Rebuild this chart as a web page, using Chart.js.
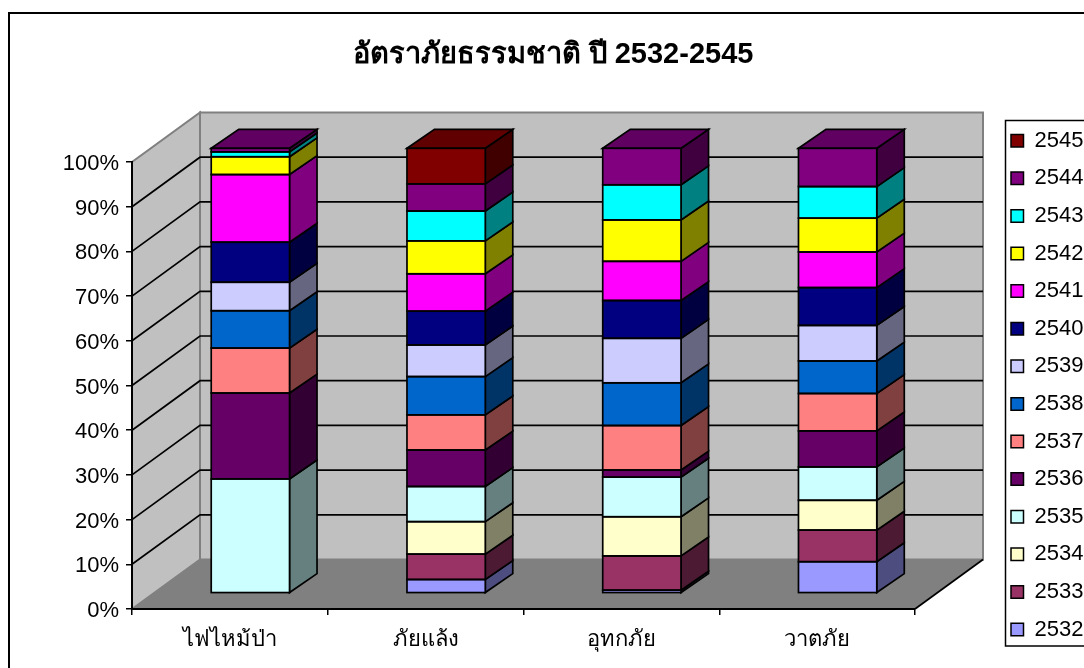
<!DOCTYPE html>
<html lang="th">
<head>
<meta charset="utf-8">
<title>อัตราภัยธรรมชาติ ปี 2532-2545</title>
<script src="https://cdn.jsdelivr.net/npm/chart.js@4/dist/chart.umd.min.js"></script>
<style>
  html, body { margin: 0; background: #fff; }
  canvas { display: block; }
</style>
</head>
<body>
<canvas id="hazardChart" width="1084" height="668"></canvas>
<script>
// Chart data (percent of each hazard per year)
const categories = ["ไฟไหม้ป่า", "ภัยแล้ง", "อุทกภัย", "วาตภัย"];
const years = ["2532", "2533", "2534", "2535", "2536", "2537", "2538", "2539", "2540", "2541", "2542", "2543", "2544", "2545"];
const yTickLabels = ["0%", "10%", "20%", "30%", "40%", "50%", "60%", "70%", "80%", "90%", "100%"];

const values2532 = [0, 3.1, 0.7, 7.1];
const values2533 = [0, 5.7, 7.7, 7.1];
const values2534 = [0, 7.3, 8.8, 6.7];
const values2535 = [25.7, 7.9, 8.9, 7.5];
const values2536 = [19.3, 8.2, 1.6, 8.1];
const values2537 = [10.1, 7.9, 10.0, 8.4];
const values2538 = [8.4, 8.6, 9.6, 7.3];
const values2539 = [6.4, 7.1, 10.0, 8.0];
const values2540 = [9.0, 7.6, 8.5, 8.5];
const values2541 = [15.2, 8.4, 8.8, 8.0];
const values2542 = [4.0, 7.4, 9.3, 7.6];
const values2543 = [1.1, 6.7, 7.9, 7.1];
const values2544 = [0.8, 6.1, 8.2, 8.6];
const values2545 = [0, 8.0, 0, 0];

const seriesValues = [values2532, values2533, values2534, values2535, values2536, values2537, values2538,
  values2539, values2540, values2541, values2542, values2543, values2544, values2545];
const seriesColors = ["#9999FF", "#993366", "#FFFFCC", "#CCFFFF", "#660066", "#FF8080", "#0066CC",
  "#CCCCFF", "#000080", "#FF00FF", "#FFFF00", "#00FFFF", "#800080", "#800000"];

const FONT_NAME = "'Liberation Sans', Arial, sans-serif";

// Fake 3D geometry of the old spreadsheet look
const WALL_DX = 68;
const WALL_DY = -49.5;
const BAR_DX = 20.5;
const BAR_DY = -15.7;
const BAR_SQUASH = 0.9955;
const SIDE_DX = 27.5;
const SIDE_DY = -19;
const EDGE_WIDTH = 1.7;

// Multiply a hex colour by a factor, for the side and top faces
function shade(hex, factor) {
  const n = parseInt(hex.slice(1), 16);
  const r = Math.round(((n >> 16) & 255) * factor);
  const g = Math.round(((n >> 8) & 255) * factor);
  const b = Math.round((n & 255) * factor);
  return `rgb(${r},${g},${b})`;
}

function fillPolygon(ctx, points, fill, stroke, lineWidth) {
  ctx.beginPath();
  points.forEach((p, i) => (i ? ctx.lineTo(p[0], p[1]) : ctx.moveTo(p[0], p[1])));
  ctx.closePath();
  if (fill) {
    ctx.fillStyle = fill;
    ctx.fill();
  }
  if (stroke) {
    ctx.strokeStyle = stroke;
    ctx.lineWidth = lineWidth;
    ctx.stroke();
  }
}

// Walls, floor, frame and legend box
function drawScenery(chart) {
  const { ctx, scales } = chart;
  const xLeft = chart.chartArea.left;
  const xRight = chart.chartArea.right;
  const y0 = scales.y.getPixelForValue(0);
  const y100 = scales.y.getPixelForValue(100);

  ctx.save();
  ctx.fillStyle = "#fff";
  ctx.fillRect(0, 0, chart.width, chart.height);

  // outer frame, right and bottom sides fall outside the picture
  ctx.strokeStyle = "#000";
  ctx.lineWidth = 2;
  ctx.beginPath();
  ctx.moveTo(9, chart.height);
  ctx.lineTo(9, 13);
  ctx.lineTo(1084, 13);
  ctx.stroke();

  // legend box
  ctx.lineWidth = 1.5;
  ctx.beginPath();
  ctx.moveTo(1084, 120.5);
  ctx.lineTo(1005.5, 120.5);
  ctx.lineTo(1005.5, 646);
  ctx.lineTo(1084, 646);
  ctx.stroke();

  // left wall, back wall, floor
  fillPolygon(ctx, [[xLeft, y0], [xLeft, y100], [xLeft + WALL_DX, y100 + WALL_DY], [xLeft + WALL_DX, y0 + WALL_DY]], "#C0C0C0", "#808080", 2);
  fillPolygon(ctx, [[xLeft + WALL_DX, y100 + WALL_DY], [xRight + WALL_DX, y100 + WALL_DY], [xRight + WALL_DX, y0 + WALL_DY], [xLeft + WALL_DX, y0 + WALL_DY]], "#C0C0C0", "#808080", 2);
  fillPolygon(ctx, [[xLeft, y0], [xLeft + WALL_DX, y0 + WALL_DY], [xRight + WALL_DX, y0 + WALL_DY], [xRight, y0]], "#808080");

  // grid lines run across the left wall and then the back wall
  ctx.strokeStyle = "#000";
  ctx.lineWidth = EDGE_WIDTH;
  scales.y.ticks.forEach((tick) => {
    if (tick.value === 0 || tick.value === 100) {
      return;
    }
    const y = scales.y.getPixelForValue(tick.value);
    ctx.beginPath();
    ctx.moveTo(xLeft, y);
    ctx.lineTo(xLeft + WALL_DX, y + WALL_DY);
    ctx.lineTo(xRight + WALL_DX, y + WALL_DY);
    ctx.stroke();
  });

  // front right edge of the floor
  ctx.beginPath();
  ctx.moveTo(xRight, y0);
  ctx.lineTo(xRight + WALL_DX, y0 + WALL_DY);
  ctx.stroke();
  ctx.restore();
}

// Side faces of each segment and the lid of each column
function drawBarFaces(chart) {
  const { ctx } = chart;
  categories.forEach((category, c) => {
    let lid = null;
    seriesValues.forEach((values, s) => {
      if (!values[c]) {
        return;
      }
      const bar = chart.getDatasetMeta(s).data[c];
      const right = bar.x + bar.width / 2;
      const color = seriesColors[s];
      fillPolygon(ctx, [
        [right, bar.y], [right + SIDE_DX, bar.y + SIDE_DY],
        [right + SIDE_DX, bar.base + SIDE_DY], [right, bar.base],
      ], shade(color, 0.5), "#000", EDGE_WIDTH);
      lid = { bar, color };
    });
    const { bar, color } = lid;
    const left = bar.x - bar.width / 2;
    const right = bar.x + bar.width / 2;
    fillPolygon(ctx, [
      [left, bar.y], [left + SIDE_DX, bar.y + SIDE_DY],
      [right + SIDE_DX, bar.y + SIDE_DY], [right, bar.y],
    ], shade(color, 0.75), "#000", EDGE_WIDTH);
  });
}

// Outline the front of each segment, the library border alone is too thin at the outer edge
function drawBarOutlines(chart) {
  const { ctx } = chart;
  categories.forEach((category, c) => {
    seriesValues.forEach((values, s) => {
      if (!values[c]) {
        return;
      }
      const bar = chart.getDatasetMeta(s).data[c];
      const left = bar.x - bar.width / 2;
      ctx.strokeStyle = "#000";
      ctx.lineWidth = EDGE_WIDTH;
      ctx.strokeRect(left, bar.y, bar.width, bar.base - bar.y);
    });
  });
}

const sceneryPlugin = {
  id: "scenery",
  afterLayout(chart) {
    // legend sits where the picture has it, over the top band
    const legend = chart.legend;
    const padding = legend.options.labels.padding;
    legend.left = 1011 - padding;
    legend.top = 114.1;
    legend.adjustHitBoxes();
  },
  beforeDraw(chart) {
    drawScenery(chart);
  },
  beforeDatasetsDraw(chart) {
    const { ctx } = chart;
    const y0 = chart.scales.y.getPixelForValue(0);
    ctx.save();
    ctx.translate(BAR_DX, y0 + BAR_DY);
    ctx.scale(1, BAR_SQUASH);
    ctx.translate(0, -y0);
    drawBarFaces(chart);
  },
  afterDatasetsDraw(chart) {
    drawBarOutlines(chart);
    chart.ctx.restore();
  },
};

// Build one dataset per year
function buildDatasets() {
  return years.map((year, i) => ({
    label: year,
    data: seriesValues[i],
    backgroundColor: seriesColors[i],
    borderWidth: 0,
    inflateAmount: 0,
    clip: false,
    xAxisID: "x",
    yAxisID: "y",
  }));
}

// Legend swatches get a black edge even though the bars are outlined by the plugin
function buildLegendLabels(chart) {
  return Chart.defaults.plugins.legend.labels.generateLabels(chart).map((item) => ({
    ...item,
    strokeStyle: "#000",
    lineWidth: 1.5,
  }));
}

const hazardChart = new Chart(document.getElementById("hazardChart"), {
  type: "bar",
  data: { labels: categories, datasets: buildDatasets() },
  plugins: [sceneryPlugin],
  options: {
    responsive: false,
    animation: false,
    categoryPercentage: 1,
    barPercentage: 0.4,
    layout: { padding: { left: 22, right: 0, top: 0, bottom: 0 } },
    plugins: {
      tooltip: { enabled: false },
      title: {
        display: true,
        text: "อัตราภัยธรรมชาติ ปี 2532-2545",
        color: "#000",
        font: { family: FONT_NAME, size: 29, weight: "bold" },
        padding: { top: 38, bottom: 47.2 },
      },
      legend: {
        display: true,
        position: "right",
        align: "start",
        reverse: true,
        labels: {
          color: "#000",
          font: { family: FONT_NAME, size: 22 },
          boxWidth: 12.5,
          boxHeight: 12.5,
          padding: 15.6,
          generateLabels: buildLegendLabels,
        },
      },
    },
    scales: {
      x: {
        stacked: true,
        grid: { drawOnChartArea: false, tickLength: 6, tickColor: "#000", lineWidth: 1.5 },
        border: { color: "#000", width: 2 },
        ticks: {
          color: "#000",
          font: { family: FONT_NAME, size: 22 },
          maxRotation: 0,
          padding: 12,
        },
        afterFit(scale) {
          scale.height = 59;
        },
      },
      y: {
        stacked: true,
        min: 0,
        max: 100,
        grid: { drawOnChartArea: false, tickLength: 6, tickColor: "#000", lineWidth: 1.5 },
        border: { color: "#000", width: 2 },
        ticks: {
          stepSize: 10,
          color: "#000",
          font: { family: FONT_NAME, size: 22 },
          padding: 7,
          labelOffset: 2,
          callback: (value, index) => yTickLabels[index],
        },
        afterFit(scale) {
          scale.width = 110;
        },
      },
      // empty spacer axes keep the plot clear of the title band and legend
      xTopSpacer: {
        type: "linear",
        axis: "x",
        position: "top",
        grid: { display: false },
        border: { display: false },
        ticks: { display: false },
        afterFit(scale) {
          scale.height = 42;
        },
      },
      yRightSpacer: {
        type: "linear",
        axis: "y",
        position: "right",
        grid: { display: false },
        border: { display: false },
        ticks: { display: false },
        afterFit(scale) {
          scale.width = 1084 - 915 - scale.chart.legend.width;
        },
      },
    },
  },
});
</script>
</body>
</html>
